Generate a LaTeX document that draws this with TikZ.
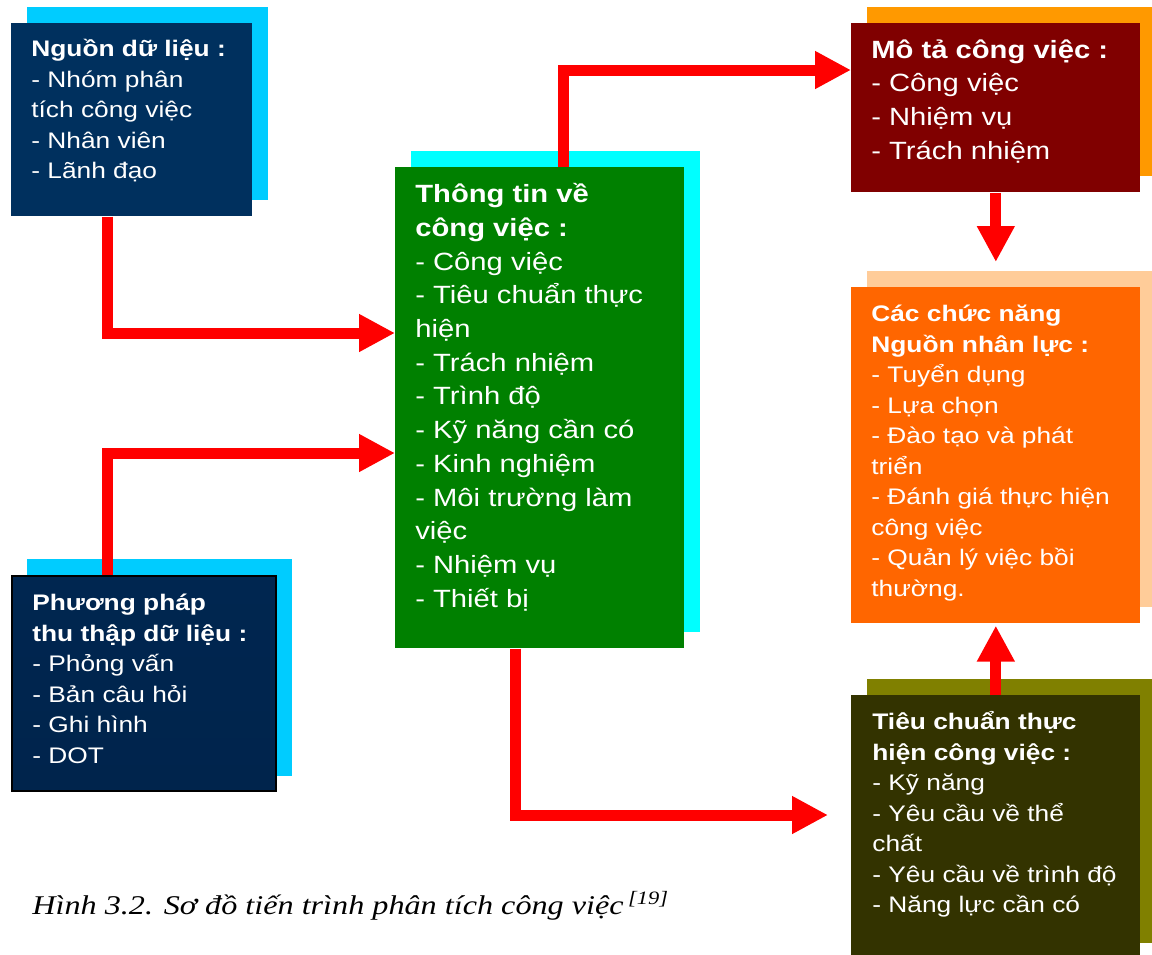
\documentclass[tikz,border=0pt]{standalone}
\usepackage{fontspec}
\setmainfont{Liberation Sans}[FakeStretch=1.17]
\newfontfamily\figfont{Liberation Serif}[FakeStretch=1.19]
\usetikzlibrary{arrows.meta}

\definecolor{navyfront}{RGB}{0,48,94}
\definecolor{skyback}{RGB}{0,204,255}
\definecolor{greenfront}{RGB}{0,128,0}
\definecolor{cyanback}{RGB}{0,255,255}
\definecolor{maroonfront}{RGB}{128,0,0}
\definecolor{orangeback}{RGB}{255,153,0}
\definecolor{orangefront}{RGB}{255,102,0}
\definecolor{peachback}{RGB}{255,204,153}
\definecolor{olivefront}{RGB}{51,51,0}
\definecolor{oliveback}{RGB}{128,128,0}
\definecolor{pptop}{RGB}{0,38,80}
\definecolor{ppmid}{RGB}{0,52,104}
\definecolor{ppbot}{RGB}{0,36,76}

\tikzset{
    card/.style={anchor=north west, inner sep=0pt, draw=none},
    cardtext/.style={anchor=north west, inner sep=0pt, align=left, text=white,
        font={\fontsize{12.8}{17.36}\selectfont},
        execute at begin node={\rule{0pt}{0.6cm}}},
    bigtext/.style={cardtext, font={\fontsize{14.2}{19.2}\selectfont}},
    redarrow/.style={draw=red, line width=0.22cm,
        -{Triangle[length=0.72cm, width=0.71cm]}}
}
\newcommand{\head}[1]{\textbf{#1}}

\begin{document}
\begin{tikzpicture}[x=0.02cm, y=-0.02cm]
    \path[use as bounding box, clip] (0,0) rectangle (1152,954);

    % shadows
    \fill[skyback] (27,7) rectangle (268,200);
    \fill[cyanback] (411,151) rectangle (700,632);
    \fill[orangeback] (867,7) rectangle (1156,176);
    \fill[peachback] (867,271) rectangle (1156,607);
    \fill[oliveback] (867,679) rectangle (1156,943);
    \fill[skyback] (27,559) rectangle (292,776);

    % boxes
    \node[card, fill=navyfront, minimum width=4.82cm, minimum height=3.86cm] (nguon) at (11,23) {};
    \node[card, fill=greenfront, minimum width=5.78cm, minimum height=9.62cm] (info) at (395,167) {};
    \node[card, fill=maroonfront, minimum width=5.78cm, minimum height=3.38cm] (mota) at (851,23) {};
    \node[card, fill=orangefront, minimum width=5.78cm, minimum height=6.72cm] (chucnang) at (851,287) {};
    \node[card, fill=olivefront, minimum width=5.78cm, minimum height=5.2cm] (tieuchuan) at (851,695) {};
    \node[card, draw=black, line width=0.04cm, top color=pptop, middle color=ppmid, bottom color=ppbot,
        minimum width=5.28cm, minimum height=4.30cm] (phuongphap) at (11,575) {};

    % texts
    \node[cardtext] (nguontext) at ([shift={(20,16)}]nguon.north west)
        {\head{Nguồn dữ liệu :}\\- Nhóm phân\\tích công việc\\- Nhân viên\\- Lãnh đạo};
    \node[bigtext] (infotext) at ([shift={(20,16)}]info.north west)
        {\head{Thông tin về}\\\head{công việc :}\\- Công việc\\- Tiêu chuẩn thực\\hiện\\- Trách nhiệm\\- Trình độ\\- Kỹ năng cần có\\- Kinh nghiệm\\- Môi trường làm\\việc\\- Nhiệm vụ\\- Thiết bị};
    \node[bigtext] (motatext) at ([shift={(20,16)}]mota.north west)
        {\head{Mô tả công việc :}\\- Công việc\\- Nhiệm vụ\\- Trách nhiệm};
    \node[cardtext] (chucnangtext) at ([shift={(20,18)}]chucnang.north west)
        {\head{Các chức năng}\\\head{Nguồn nhân lực :}\\- Tuyển dụng\\- Lựa chọn\\- Đào tạo và phát\\triển\\- Đánh giá thực hiện\\công việc\\- Quản lý việc bồi\\thường.};
    \node[cardtext] (tieuchuantext) at ([shift={(21,16)}]tieuchuan.north west)
        {\head{Tiêu chuẩn thực}\\\head{hiện công việc :}\\- Kỹ năng\\- Yêu cầu về thể\\chất\\- Yêu cầu về trình độ\\- Năng lực cần có};
    \node[cardtext] (phuongphaptext) at ([shift={(21,19)}]phuongphap.north west)
        {\head{Phương pháp}\\\head{thu thập dữ liệu :}\\- Phỏng vấn\\- Bản câu hỏi\\- Ghi hình\\- DOT};

    % arrows
    \draw[redarrow] ([shift={(96,0)}]nguon.south west) |- ([shift={(0,166)}]info.north west);
    \draw[redarrow] ([shift={(96,0)}]phuongphap.north west) |- ([shift={(0,286)}]info.north west);
    \draw[redarrow] ([shift={(168,0)}]info.north west) |- ([shift={(0,47)}]mota.north west);
    \coordinate (tieuchuanin) at ([shift={(-23,120)}]tieuchuan.north west);
    \draw[redarrow] ([shift={(120,0)}]info.south west) |- (tieuchuanin);
    \draw[redarrow] (mota.south) -- ([shift={(0,-25)}]chucnang.north);
    \draw[redarrow] (tieuchuan.north) -- ([shift={(0,2)}]chucnang.south);

    \node[anchor=base west, inner sep=0pt, font={\figfont\itshape\fontsize{15.4}{18}\selectfont}] (caption)
        at (32,914) {Hình 3.2. Sơ đồ tiến trình phân tích công việc\,\textsuperscript{[19]}};
\end{tikzpicture}
\end{document}
